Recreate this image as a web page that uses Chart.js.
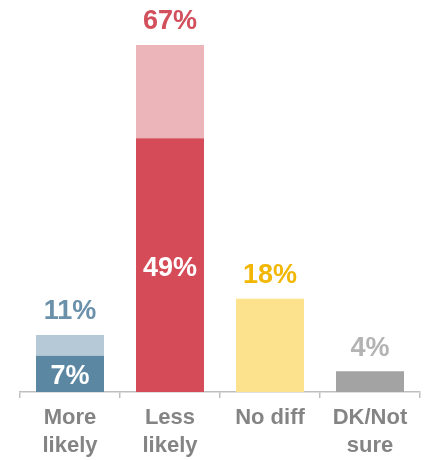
<!DOCTYPE html>
<html>
<head>
<meta charset="utf-8">
<script src="https://cdn.jsdelivr.net/npm/chart.js@4/dist/chart.umd.min.js"></script>
<style>
html,body{margin:0;padding:0;background:#fff;}
#wrap{width:426px;height:460px;position:relative;}
</style>
</head>
<body>
<div id="wrap"><canvas id="c"></canvas></div>
<script>
// ===== DATA =====
const categories = [["More","likely"],["Less","likely"],["No diff"],["DK/Not","sure"]];
const innerValues = [7, 49, 18, 4];     // dark / main part
const outerValues = [4, 18, 0, 0];      // light part on top
const totalValues = [11, 67, 18, 4];
const showInner = [true, true, false, false];

const darkColors  = ['#5b87a3','#d54b58','#fde28e','#a3a3a3'];
const lightColors = ['#b5c9d7','#ecb5ba','#fde28e','#a3a3a3'];
const labelColors = ['#6a90aa','#d24f5c','#f2b705','#b3b3b3'];

const FONT = '"Liberation Sans", Arial, sans-serif';

// ===== LABEL PLUGIN =====
const valueLabels = {
  id:'valueLabels',
  afterDatasetsDraw(chart){
    const ctx = chart.ctx;
    const m0 = chart.getDatasetMeta(0);
    const m1 = chart.getDatasetMeta(1);
    ctx.save();
    ctx.font = 'bold 27px ' + FONT;
    ctx.textAlign = 'center';
    ctx.textBaseline = 'middle';
    totalValues.forEach((v,i)=>{
      const top = outerValues[i] > 0 ? m1.data[i] : m0.data[i];
      ctx.fillStyle = labelColors[i];
      ctx.fillText(v + '%', top.x, top.y - 23);
      if(showInner[i]){
        const b = m0.data[i];
        ctx.fillStyle = '#ffffff';
        ctx.fillText(innerValues[i] + '%', b.x, (b.y + b.base)/2 + 3);
      }
    });
    ctx.restore();
  }
};

// ===== CHART =====
const chart = new Chart(document.getElementById('c'),{
  type:'bar',
  data:{
    labels:categories,
    datasets:[{
      data:innerValues,
      backgroundColor:darkColors,
      borderWidth:0
    },{
      data:outerValues,
      backgroundColor:lightColors,
      borderWidth:0
    }]
  },
  options:{
    responsive:true,
    maintainAspectRatio:false,
    animation:false,
    layout:{padding:{left:20,right:6,top:45,bottom:0}},
    plugins:{legend:{display:false},tooltip:{enabled:false}},
    datasets:{bar:{categoryPercentage:1,barPercentage:0.68}},
    scales:{
      x:{
        stacked:true,
        afterFit:(s)=>{ s.height = 68; },
        grid:{display:true,drawOnChartArea:false,offset:true,tickLength:6,color:'#bfbfbf',lineWidth:1.5},
        border:{display:true,color:'#bfbfbf',width:1.5},
        ticks:{color:'#848484',font:{family:FONT,size:22,weight:'bold',lineHeight:1.28},padding:6}
      },
      y:{
        stacked:true,
        display:false,
        min:0,
        max:67
      }
    }
  },
  plugins:[valueLabels]
});
</script>
</body>
</html>
